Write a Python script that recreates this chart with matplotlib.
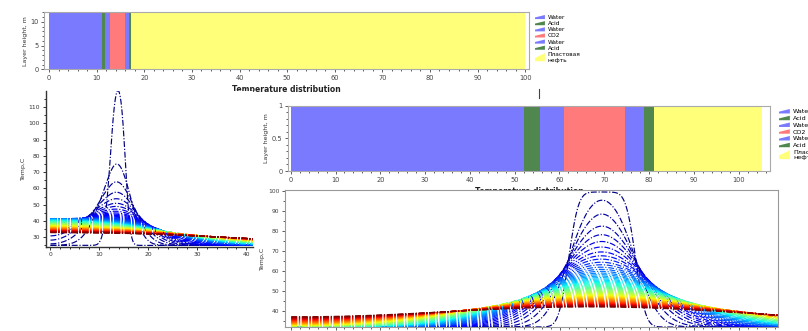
import numpy as np
import matplotlib
matplotlib.use("Agg")
import matplotlib.pyplot as plt
from matplotlib.patches import Polygon
from matplotlib.legend_handler import HandlerPatch
from matplotlib.ticker import MultipleLocator
from matplotlib.lines import Line2D

# ---------------- data ----------------
layer_names = ["Water", "Acid", "Water", "CO2", "Water", "Acid", "Пластовая\nнефть"]
layer_colors = ["#7a7aff", "#4f874f", "#7a7aff", "#ff7a7a", "#7a7aff", "#4f874f", "#ffff7a"]

# top-left bar: layer widths
tl_widths = [11.1, 0.7, 1.1, 3.0, 0.9, 0.4, 82.8]
tl_height = 12
# top-right bar: layer widths
tr_widths = [52.0, 3.7, 5.3, 13.6, 4.2, 2.2, 24.3]
tr_height = 1

# bottom-left temperature family
bl_length = 100.0
bl_hot = [12.4, 15.4]
bl_T_base = 25.0
bl_T_hot = 125.0
bl_c_left = 0.5          # relative heat capacity of the left water layer
bl_v = 0.0
bl_n = 90
bl_sig2 = [0.6, 477.0, 423.0]   # spread of the profiles: start, linear, late growth
bl_yticks = [30, 40, 50, 60, 70, 80, 90, 100, 110]
bl_xticks = [0, 10, 20, 30, 40]

# bottom-right temperature family
br_length = 220.0
br_hot = [62.1, 77.1]
br_T_base = 32.0
br_T_hot = 99.5
br_c_left = 1.0
br_v = -0.003
br_n = 60
br_sig2 = [3.0, 780.0, 820.0]
br_yticks = [40, 50, 60, 70, 80, 90, 100]

W, H = 808, 331
D = 1.0


def expm(A):
    nrm = np.abs(A).sum(axis=1).max()
    s = max(0, int(np.ceil(np.log2(nrm + 1e-12))) + 1)
    B = A / (2 ** s)
    E = np.eye(A.shape[0])
    term = np.eye(A.shape[0])
    for k in range(1, 14):
        term = term @ B / k
        E = E + term
    for _ in range(s):
        E = E @ E
    return E


def simulate(length, hot, T_base, T_hot, c_left, v, n, sig2, dx=0.25, h=0.5):
    x = np.arange(dx / 2, length, dx)
    m = len(x)
    F = np.zeros((m, m))
    k = D / dx ** 2
    i = np.arange(m - 1)
    F[i, i] -= k
    F[i, i + 1] += k
    F[i + 1, i + 1] -= k
    F[i + 1, i] += k
    F[i, i + 1] -= v / dx
    F[i + 1, i + 1] += v / dx
    cap = np.where(x < hot[0], c_left, 1.0)
    A = F / cap[:, None]
    s = np.arange(n) / (n - 1)
    times = (sig2[0] + sig2[1] * s + sig2[2] * s ** 4) / (2 * D)
    u = np.where((x >= hot[0]) & (x <= hot[1]), T_hot - T_base, 0.0)
    u = expm(A * times[0]) @ u
    M = expm(A * h)
    out = [T_base + u]
    t = times[0]
    for target in times[1:]:
        steps = max(1, int(round((target - t) / h)))
        for _ in range(steps):
            u = M @ u
        t += steps * h
        out.append(T_base + u)
    return x, out


def fax(l, r, t, b):
    return [l / W, 1 - b / H, (r - l) / W, (b - t) / H]


def ramp(legend, orig_handle, xdescent, ydescent, width, height, fontsize):
    x0, y0 = -xdescent, -ydescent
    return Polygon([[x0, y0], [x0 + width, y0], [x0 + width, y0 + height],
                    [x0, y0 + height * 0.4]], closed=True)


def ramp_big(legend, orig_handle, xdescent, ydescent, width, height, fontsize):
    x0, y0 = -xdescent, -ydescent - height * 0.5
    hh = height * 2.0
    return Polygon([[x0, y0], [x0 + width, y0], [x0 + width, y0 + hh],
                    [x0, y0 + hh * 0.4]], closed=True)


def bar_axes(ax, widths, height, xlim, yticks):
    lefts = np.concatenate([[0], np.cumsum(widths)[:-1]])
    bars = ax.bar(lefts, [height] * len(widths), width=widths, align="edge",
                  color=layer_colors, linewidth=0)
    ax.set_xlim(*xlim)
    ax.set_ylim(0, height)
    ax.xaxis.set_major_locator(MultipleLocator(10))
    ax.xaxis.set_minor_locator(MultipleLocator(2))
    ax.set_yticks(yticks)
    ax.yaxis.set_minor_locator(MultipleLocator(yticks[1] / 5))
    ax.tick_params(which="both", direction="out", labelsize=4.8, colors="#444",
                   width=0.6, pad=1.5)
    ax.tick_params(which="major", length=2.5)
    ax.tick_params(which="minor", length=1.5)
    for sp in ax.spines.values():
        sp.set_color("#aaaaaa")
        sp.set_linewidth(0.8)
    ax.set_ylabel("Layer height, m", fontsize=4.5, labelpad=2, color="#333")
    ax.set_xlabel("Temperature distribution", fontsize=5.5, fontweight="bold",
                  labelpad=3, color="#222")
    return bars


fig = plt.figure(figsize=(W / 100, H / 100), dpi=100)

# ---- top-left bar ----
ax1 = fig.add_axes(fax(44.3, 529, 12.3, 69.3))
bars1 = bar_axes(ax1, tl_widths, tl_height, (-1.0, 100.8), [0, 5, 10])
hm = {b: HandlerPatch(patch_func=ramp) for b in bars1.patches[:-1]}
hm[bars1.patches[-1]] = HandlerPatch(patch_func=ramp_big)
fig.legend(bars1.patches, layer_names, loc="upper left",
           bbox_to_anchor=(535 / W, 1 - 15 / H), frameon=False, fontsize=4.2,
           labelspacing=0.18, handlelength=1.7, handleheight=0.7,
           handletextpad=0.5, borderpad=0, borderaxespad=0, handler_map=hm)

# ---- top-right bar ----
ax2 = fig.add_axes(fax(288.3, 770, 105.7, 171))
bars2 = bar_axes(ax2, tr_widths, tr_height, (-0.54, 107.0), [0, 0.5, 1])
ax2.set_yticklabels(["0", "0.5", "1"])
hm2 = {b: HandlerPatch(patch_func=ramp) for b in bars2.patches[:-1]}
hm2[bars2.patches[-1]] = HandlerPatch(patch_func=ramp_big)
fig.legend(bars2.patches, layer_names, loc="upper left",
           bbox_to_anchor=(779 / W, 1 - 109 / H), frameon=False, fontsize=4.6,
           labelspacing=0.2, handlelength=1.7, handleheight=0.7,
           handletextpad=0.5, borderpad=0, borderaxespad=0, handler_map=hm2)

dash = (0, (5, 1.5, 1, 1.5))
cmap = plt.get_cmap("jet")

# ---- bottom-left curves ----
ax3 = fig.add_axes(fax(45.7, 253, 91, 246.7))
x_bl, curves_bl = simulate(bl_length, bl_hot, bl_T_base, bl_T_hot, bl_c_left,
                           bl_v, bl_n, bl_sig2, dx=0.2, h=0.25)
for k, T in enumerate(curves_bl):
    ax3.plot(x_bl, T, color=cmap(k / (bl_n - 1)), lw=0.85, ls=dash)
ax3.set_xlim(-0.88, 41.4)
ax3.set_ylim(24.2, 119.8)
ax3.set_xticks(bl_xticks)
ax3.set_yticks(bl_yticks)
ax3.xaxis.set_minor_locator(MultipleLocator(2))
ax3.yaxis.set_minor_locator(MultipleLocator(5))
ax3.spines["top"].set_visible(False)
ax3.spines["right"].set_visible(False)
for sname in ("left", "bottom"):
    ax3.spines[sname].set_color("#333")
    ax3.spines[sname].set_linewidth(1.0)
ax3.tick_params(which="both", direction="out", labelsize=4.3, colors="#333",
                width=0.7, pad=1.5)
ax3.tick_params(which="major", length=2.5)
ax3.tick_params(which="minor", length=1.5)
ax3.set_ylabel("Temp,C", fontsize=4.5, labelpad=2, color="#333")

# ---- bottom-right curves ----
ax4 = fig.add_axes(fax(285, 778.3, 190, 326.7))
x_br, curves_br = simulate(br_length, br_hot, br_T_base, br_T_hot, br_c_left,
                           br_v, br_n, br_sig2, dx=0.25, h=0.5)
for k, T in enumerate(curves_br):
    ax4.plot(x_br, T, color=cmap(k / (br_n - 1)), lw=0.85, ls=dash)
ax4.set_xlim(-1.27, 108.8)
ax4.set_ylim(32.15, 100.5)
ax4.set_yticks(br_yticks)
ax4.xaxis.set_major_locator(MultipleLocator(10))
ax4.xaxis.set_minor_locator(MultipleLocator(2))
ax4.yaxis.set_minor_locator(MultipleLocator(5))
for sp in ax4.spines.values():
    sp.set_color("#999")
    sp.set_linewidth(0.8)
ax4.tick_params(which="both", direction="out", labelsize=4.3, colors="#444",
                width=0.6, pad=1.5, labelbottom=False)
ax4.tick_params(which="major", length=2.5)
ax4.tick_params(which="minor", length=1.5)
ax4.set_ylabel("Temp,C", fontsize=4.5, labelpad=2, color="#333")

# small stray mark from the original screenshot collage
fig.add_artist(Line2D([538.5 / W, 538.5 / W], [1 - 89 / H, 1 - 98 / H],
                      color="#444", lw=0.8))

fig.savefig("out.png", dpi=100)
